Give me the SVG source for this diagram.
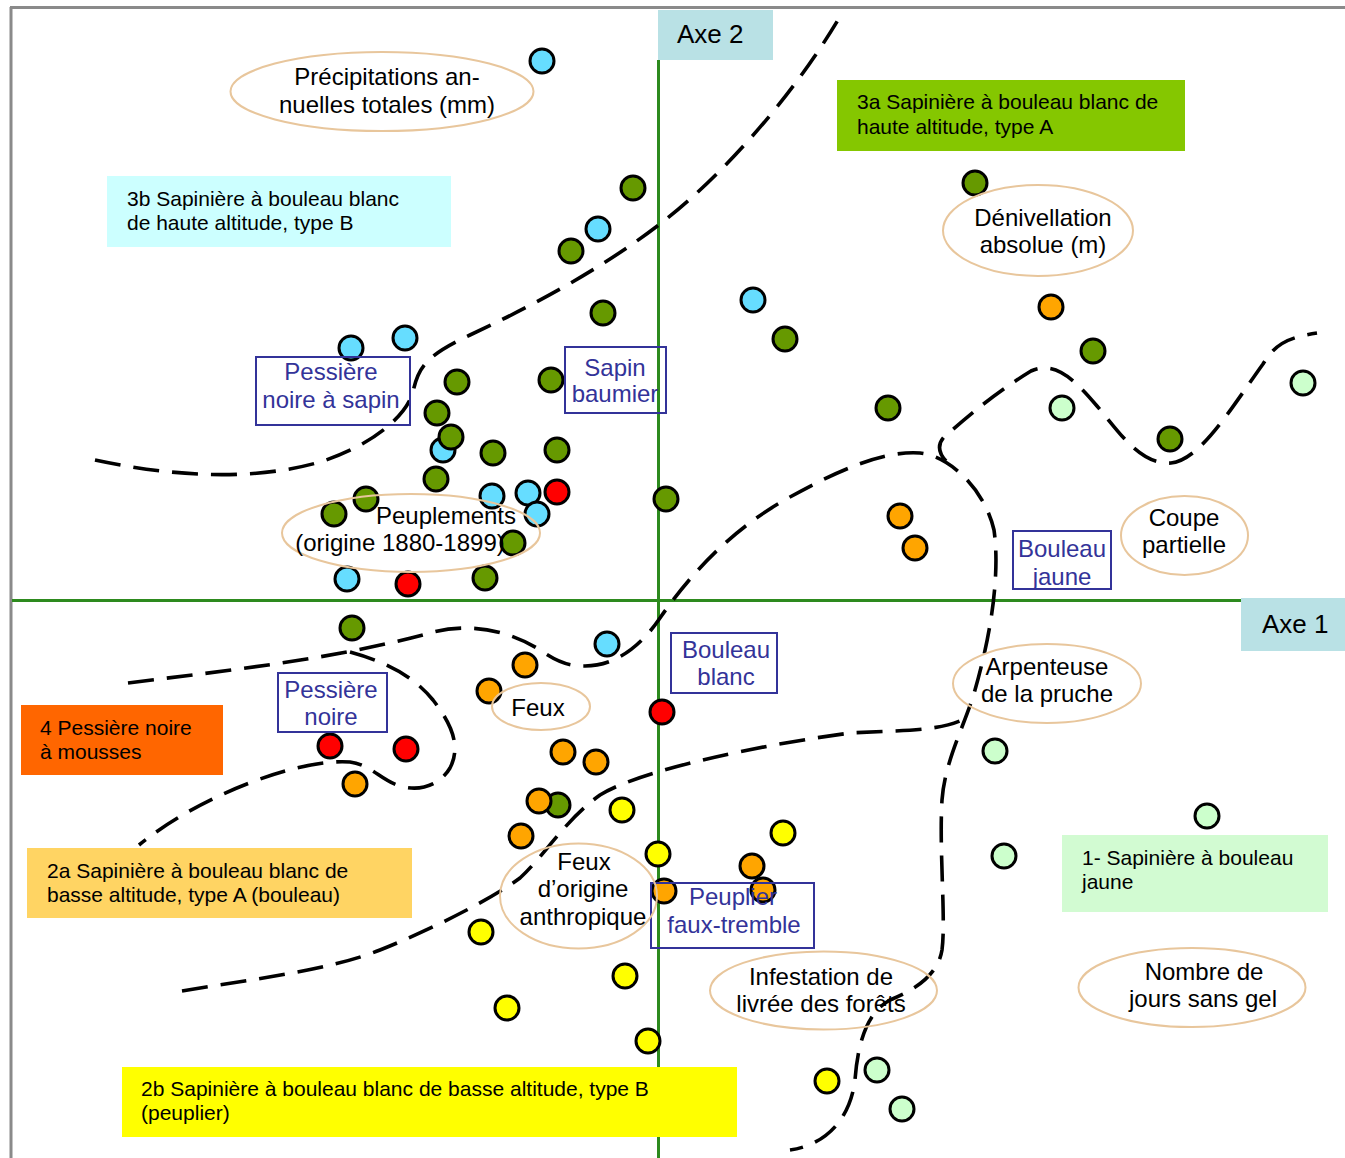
<svg xmlns="http://www.w3.org/2000/svg" width="1345" height="1158" viewBox="0 0 1345 1158">
<style>
text{font-family:"Liberation Sans",Arial,sans-serif;}
.zone{font-size:21px;fill:#000;}
.axe{font-size:26px;fill:#000;}
.sp rect{fill:none;stroke:#333399;stroke-width:2;}
.sp text{font-size:24px;fill:#333399;text-anchor:middle;}
.var ellipse{fill:none;stroke:#e8c69c;stroke-width:2;}
.var text{font-size:24px;fill:#000;text-anchor:middle;}
.dash{fill:none;stroke:#000;stroke-width:3.6;stroke-dasharray:26 13;}
.d{stroke:#000;stroke-width:3;}
.c{fill:#66ddff;}.g{fill:#669900;}.r{fill:#ff0000;}.o{fill:#ffa500;}.y{fill:#ffff00;}.l{fill:#ccffcc;}
</style>
<rect width="1345" height="1158" fill="#fff"/>
<g id="frame" fill="none" stroke="#8a8a8a" stroke-width="3">
<path d="M10,7.5 H1345 M11,7 V1158"/>
</g>
<g id="axes" stroke="#2d8a1e" stroke-width="3" fill="none">
<path d="M658.5,60 V1158 M12,600.5 H1241"/>
</g>
<g id="zones">
<g id="zone-3a"><rect x="837" y="80" width="348" height="71" fill="#85c700"/><text class="zone" x="857" y="109">3a Sapinière à bouleau blanc de</text><text class="zone" x="857" y="134">haute altitude, type A</text></g>
<g id="zone-3b"><rect x="107" y="176" width="344" height="71" fill="#ccffff"/><text class="zone" x="127" y="206">3b Sapinière à bouleau blanc</text><text class="zone" x="127" y="230">de haute altitude, type B</text></g>
<g id="zone-4"><rect x="21" y="705" width="202" height="70" fill="#ff6600"/><text class="zone" x="40" y="735">4 Pessière noire</text><text class="zone" x="40" y="759">à mousses</text></g>
<g id="zone-2a"><rect x="27" y="848" width="385" height="70" fill="#ffd463"/><text class="zone" x="47" y="878">2a Sapinière à bouleau blanc de</text><text class="zone" x="47" y="902">basse altitude, type A (bouleau)</text></g>
<g id="zone-2b"><rect x="122" y="1067" width="615" height="70" fill="#ffff00"/><text class="zone" x="141" y="1096">2b Sapinière à bouleau blanc de basse altitude, type B</text><text class="zone" x="141" y="1120">(peuplier)</text></g>
<g id="zone-1"><rect x="1062" y="835" width="266" height="77" fill="#d2fbd2"/><text class="zone" x="1082" y="865">1- Sapinière à bouleau</text><text class="zone" x="1082" y="889">jaune</text></g>
</g>
<g id="connectors">
<path class="dash" d="M95,460 C170,476 250,482 320,462 C365,448 405,420 413,392 C418,368 425,356 470,335 C530,307 600,270 660,224 C720,178 790,100 838,20"/>
<path class="dash" d="M128,683 C230,670 330,660 430,633 C465,623 505,628 540,650 C555,660 565,666 585,666 C620,666 645,640 660,618 C690,575 730,530 790,497 C830,475 880,450 920,453 C950,456 985,490 994,530 C999,565 995,620 975,690 C965,725 945,760 942,800 C939,850 946,920 942,950 C938,975 915,990 890,1000 C868,1012 858,1040 855,1080 C850,1120 825,1145 790,1150"/>
<path class="dash" d="M946,461 C936,450 938,440 950,432 C975,410 1000,390 1031,371 C1055,360 1075,380 1097,406 C1120,433 1140,465 1171,463 C1200,460 1230,410 1263,364 C1275,345 1285,338 1317,333"/>
<path class="dash" d="M182,991 C260,978 330,970 380,950 C430,930 490,900 520,878 C545,855 565,820 600,795 C640,770 760,745 850,733 C900,730 940,732 966,718"/>
<path class="dash" d="M350,652 C390,663 415,678 433,700 C450,722 462,745 450,768 C440,785 420,792 400,786 C380,780 372,765 350,762 C300,758 200,795 139,845"/>
</g>
<g id="dots" class="d">
<circle class="c" cx="542" cy="61" r="12"/>
<circle class="g" cx="633" cy="188" r="12"/>
<circle class="c" cx="598" cy="229" r="12"/>
<circle class="g" cx="571" cy="251" r="12"/>
<circle class="g" cx="603" cy="313" r="12"/>
<circle class="c" cx="351" cy="348" r="12"/>
<circle class="c" cx="405" cy="338" r="12"/>
<circle class="g" cx="457" cy="382" r="12"/>
<circle class="g" cx="551" cy="380" r="12"/>
<circle class="g" cx="437" cy="413" r="12"/>
<circle class="c" cx="443" cy="450" r="12"/>
<circle class="g" cx="451" cy="437" r="12"/>
<circle class="g" cx="493" cy="453" r="12"/>
<circle class="g" cx="557" cy="450" r="12"/>
<circle class="g" cx="436" cy="479" r="12"/>
<circle class="g" cx="366" cy="499" r="12"/>
<circle class="g" cx="334" cy="514" r="12"/>
<circle class="c" cx="492" cy="496" r="12"/>
<circle class="c" cx="528" cy="493" r="12"/>
<circle class="r" cx="557" cy="492" r="12"/>
<circle class="c" cx="537" cy="514" r="12"/>
<circle class="g" cx="513" cy="543" r="12"/>
<circle class="c" cx="347" cy="579" r="12"/>
<circle class="r" cx="408" cy="584" r="12"/>
<circle class="g" cx="485" cy="578" r="12"/>
<circle class="g" cx="666" cy="499" r="12"/>
<circle class="g" cx="975" cy="183" r="12"/>
<circle class="c" cx="753" cy="300" r="12"/>
<circle class="g" cx="785" cy="339" r="12"/>
<circle class="o" cx="1051" cy="307" r="12"/>
<circle class="g" cx="1093" cy="351" r="12"/>
<circle class="g" cx="888" cy="408" r="12"/>
<circle class="l" cx="1062" cy="408" r="12"/>
<circle class="g" cx="1170" cy="439" r="12"/>
<circle class="l" cx="1303" cy="383" r="12"/>
<circle class="o" cx="900" cy="516" r="12"/>
<circle class="o" cx="915" cy="548" r="12"/>
<circle class="g" cx="352" cy="628" r="12"/>
<circle class="c" cx="607" cy="644" r="12"/>
<circle class="r" cx="330" cy="746" r="12"/>
<circle class="r" cx="406" cy="749" r="12"/>
<circle class="o" cx="355" cy="784" r="12"/>
<circle class="o" cx="525" cy="665" r="12"/>
<circle class="o" cx="489" cy="691" r="12"/>
<circle class="r" cx="662" cy="712" r="12"/>
<circle class="o" cx="563" cy="752" r="12"/>
<circle class="o" cx="596" cy="762" r="12"/>
<circle class="g" cx="558" cy="805" r="12"/>
<circle class="o" cx="539" cy="801" r="12"/>
<circle class="y" cx="622" cy="810" r="12"/>
<circle class="o" cx="521" cy="836" r="12"/>
<circle class="y" cx="658" cy="854" r="12"/>
<circle class="y" cx="783" cy="833" r="12"/>
<circle class="o" cx="752" cy="866" r="12"/>
<circle class="o" cx="763" cy="890" r="12"/>
<circle class="o" cx="664" cy="891" r="12"/>
<circle class="y" cx="481" cy="932" r="12"/>
<circle class="y" cx="625" cy="976" r="12"/>
<circle class="y" cx="507" cy="1008" r="12"/>
<circle class="y" cx="648" cy="1041" r="12"/>
<circle class="y" cx="827" cy="1081" r="12"/>
<circle class="l" cx="877" cy="1070" r="12"/>
<circle class="l" cx="902" cy="1109" r="12"/>
<circle class="l" cx="995" cy="751" r="12"/>
<circle class="l" cx="1207" cy="816" r="12"/>
<circle class="l" cx="1004" cy="856" r="12"/>
</g>
<g id="species">
<g id="sp-pessiere-sapin" class="sp"><rect x="256" y="357" width="154" height="68"/><text x="331" y="380">Pessière</text><text x="331" y="408">noire à sapin</text></g>
<g id="sp-sapin" class="sp"><rect x="565" y="347" width="101" height="66"/><text x="615" y="376">Sapin</text><text x="615" y="402">baumier</text></g>
<g id="sp-bouleau-jaune" class="sp"><rect x="1013" y="531" width="98" height="58"/><text x="1062" y="557">Bouleau</text><text x="1062" y="585">jaune</text></g>
<g id="sp-pessiere" class="sp"><rect x="278" y="673" width="109" height="59"/><text x="331" y="698">Pessière</text><text x="331" y="725">noire</text></g>
<g id="sp-bouleau-blanc" class="sp"><rect x="671" y="633" width="106" height="60"/><text x="726" y="658">Bouleau</text><text x="726" y="685">blanc</text></g>
<g id="sp-peuplier" class="sp"><rect x="651" y="883" width="163" height="65"/><text x="733" y="905">Peuplier</text><text x="734" y="933">faux-tremble</text></g>
</g>
<g id="variables">
<g id="v-precip" class="var"><ellipse cx="382" cy="91.5" rx="151.5" ry="39.5"/><text x="387" y="85">Précipitations an-</text><text x="387" y="113">nuelles totales (mm)</text></g>
<g id="v-deniv" class="var"><ellipse cx="1038" cy="230.5" rx="95" ry="45.5"/><text x="1043" y="226">Dénivellation</text><text x="1043" y="253">absolue (m)</text></g>
<g id="v-peuplements" class="var"><ellipse cx="411" cy="533" rx="129" ry="39"/><text x="446" y="524">Peuplements</text><text x="400" y="551">(origine 1880-1899)</text></g>
<g id="v-coupe" class="var"><ellipse cx="1184.5" cy="535.5" rx="63.5" ry="39.5"/><text x="1184" y="526">Coupe</text><text x="1184" y="553">partielle</text></g>
<g id="v-arpenteuse" class="var"><ellipse cx="1047" cy="683.5" rx="94" ry="39.5"/><text x="1047" y="675">Arpenteuse</text><text x="1047" y="702">de la pruche</text></g>
<g id="v-feux" class="var"><ellipse cx="541" cy="706.5" rx="49" ry="23.5"/><text x="538" y="716">Feux</text></g>
<g id="v-feux-anthro" class="var"><ellipse cx="578.5" cy="896" rx="78.5" ry="52.5"/><text x="584" y="870">Feux</text><text x="583" y="897">d’origine</text><text x="583" y="925">anthropique</text></g>
<g id="v-infestation" class="var"><ellipse cx="823.5" cy="990.5" rx="113.5" ry="39"/><text x="821" y="985">Infestation de</text><text x="821" y="1012">livrée des forêts</text></g>
<g id="v-gel" class="var"><ellipse cx="1192" cy="987.5" rx="113.5" ry="39.5"/><text x="1204" y="980">Nombre de</text><text x="1203" y="1007">jours sans gel</text></g>
</g>
<g id="axis-labels">
<g id="axe2"><rect x="658" y="10" width="115" height="50" fill="#b9e1e5"/><text class="axe" x="677" y="43">Axe 2</text></g>
<g id="axe1"><rect x="1241" y="598" width="104" height="53" fill="#b9e1e5"/><text class="axe" x="1262" y="633">Axe 1</text></g>
</g>
</svg>
